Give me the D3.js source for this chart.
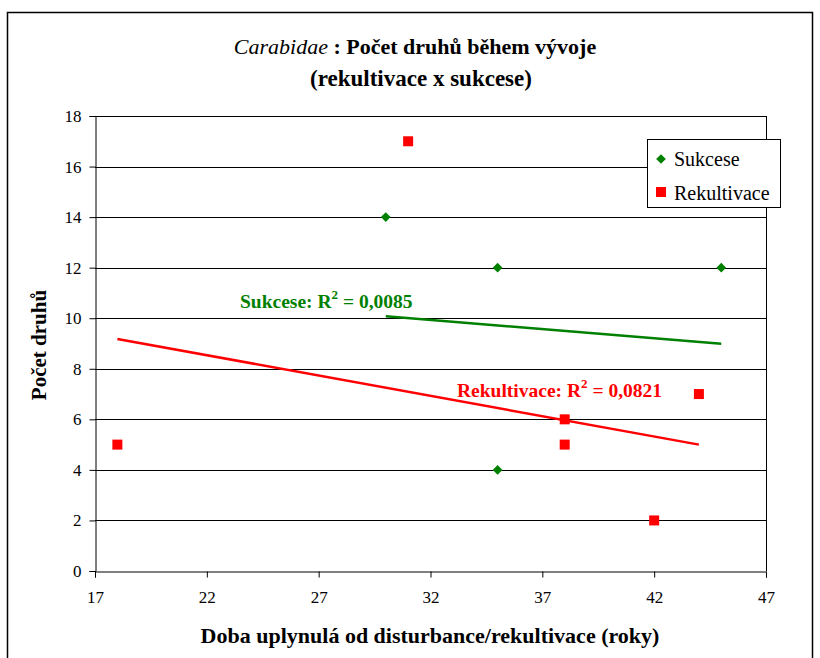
<!DOCTYPE html>
<html>
<head>
<meta charset="utf-8">
<script src="https://cdn.jsdelivr.net/npm/d3@7"></script>
<style>
  html, body { margin: 0; padding: 0; background: #fff; }
  svg text { font-family: "Liberation Serif", "Times New Roman", serif; }
</style>
</head>
<body>
<svg id="chart" width="820" height="658"></svg>
<script>
// ---- data ----
const sukceseX = [30, 35, 35, 45, 38];
const sukceseY = [14, 12, 4, 12, 6];
const rekultivaceX = [18, 31, 38, 38, 42, 44];
const rekultivaceY = [5, 17, 6, 5, 2, 7];
const sukceseTrendX = [30, 45];
const sukceseTrendY = [10.08, 8.99];
const rekultivaceTrendX = [18, 44];
const rekultivaceTrendY = [9.18, 5.0];
const xTicks = [17, 22, 27, 32, 37, 42, 47];
const yTicks = [0, 2, 4, 6, 8, 10, 12, 14, 16, 18];
const seriesNames = ["Sukcese", "Rekultivace"];
const seriesColors = ["#008000", "#ff0000"];
const r2Labels = ["0,0085", "0,0821"];

(function () {
const FONT = '"Liberation Serif", "Times New Roman", serif';
const svg = d3.select("#chart");
const pLeft = 95, pRight = 766, pTop = 116, pBottom = 571;

const x = d3.scaleLinear().domain([17, 47]).range([pLeft, pRight]);
const y = d3.scaleLinear().domain([0, 18]).range([pBottom, pTop]);

// outer border
svg.append("rect").attr("x", 7.5).attr("y", 12.5).attr("width", 805).attr("height", 660)
  .attr("fill", "none").attr("stroke", "#000").attr("stroke-width", 1.5);

// gridlines
svg.append("g").selectAll("line").data(yTicks.filter(d => d > 0)).join("line")
  .attr("x1", pLeft).attr("x2", pRight)
  .attr("y1", d => Math.round(y(d)) + 0.5).attr("y2", d => Math.round(y(d)) + 0.5)
  .attr("stroke", "#000").attr("stroke-width", 1);

// right edge line
svg.append("line").attr("x1", pRight + 0.5).attr("x2", pRight + 0.5).attr("y1", pTop).attr("y2", pBottom)
  .attr("stroke", "#000").attr("stroke-width", 1);

// axes
const yAxis = d3.axisLeft(y).tickValues(yTicks).tickSize(6).tickPadding(8).tickFormat(d3.format("d"));
const gy = svg.append("g").attr("transform", `translate(${pLeft + 0.5},0)`).call(yAxis);
gy.attr("font-family", null);
gy.select(".domain").attr("stroke", "#000");
gy.selectAll(".tick line").attr("stroke", "#000");
gy.selectAll("text").attr("font-size", 17).attr("fill", "#000").style("font-family", FONT);

const xAxis = d3.axisBottom(x).tickValues(xTicks).tickSize(6).tickPadding(13).tickFormat(d3.format("d"));
const gx = svg.append("g").attr("transform", `translate(0,${pBottom + 0.5})`).call(xAxis);
gx.attr("font-family", null);
gx.select(".domain").attr("stroke", "#000");
gx.selectAll(".tick line").attr("stroke", "#000");
gx.selectAll("text").attr("font-size", 17).attr("fill", "#000").style("font-family", FONT);

// trend lines
const line = d3.line().x(d => x(d[0])).y(d => y(d[1]));
svg.append("path").datum(d3.zip(sukceseTrendX, sukceseTrendY)).attr("d", line)
  .attr("stroke", seriesColors[0]).attr("stroke-width", 2.5).attr("fill", "none");
svg.append("path").datum(d3.zip(rekultivaceTrendX, rekultivaceTrendY)).attr("d", line)
  .attr("stroke", seriesColors[1]).attr("stroke-width", 2.5).attr("fill", "none");

// markers
const diamond = d3.symbol().type(d3.symbolDiamond2).size(60);
svg.append("g").selectAll("path").data(d3.zip(sukceseX, sukceseY)).join("path")
  .attr("d", diamond).attr("transform", d => `translate(${x(d[0])},${y(d[1])})`)
  .attr("fill", seriesColors[0]);
svg.append("g").selectAll("rect").data(d3.zip(rekultivaceX, rekultivaceY)).join("rect")
  .attr("x", d => x(d[0]) - 5).attr("y", d => y(d[1]) - 5)
  .attr("width", 10).attr("height", 10).attr("fill", seriesColors[1]);

// R² labels
function r2(xp, yp, name, val, color) {
  const t = svg.append("text").attr("x", xp).attr("y", yp).attr("fill", color)
    .attr("font-weight", "bold").attr("font-size", 19.5).style("font-family", FONT);
  t.append("tspan").text(name + ": R");
  t.append("tspan").text("2").attr("font-size", 13).attr("dy", -9);
  t.append("tspan").text(" = " + val).attr("dy", 9);
}
r2(240, 308, seriesNames[0], r2Labels[0], seriesColors[0]);
r2(457, 397, seriesNames[1], r2Labels[1], seriesColors[1]);

// legend
svg.append("rect").attr("x", 647.5).attr("y", 139.5).attr("width", 133).attr("height", 68)
  .attr("fill", "#fff").attr("stroke", "#000").attr("stroke-width", 1);
svg.append("path").attr("d", diamond).attr("transform", "translate(661,159)").attr("fill", seriesColors[0]);
svg.append("rect").attr("x", 656).attr("y", 187).attr("width", 10).attr("height", 10).attr("fill", seriesColors[1]);
svg.append("text").attr("x", 674).attr("y", 166).attr("font-size", 20).style("font-family", FONT).text(seriesNames[0]);
svg.append("text").attr("x", 674).attr("y", 200).attr("font-size", 20).style("font-family", FONT).text(seriesNames[1]);

// title
const title = svg.append("text").attr("x", 415).attr("y", 54).attr("text-anchor", "middle")
  .attr("font-size", 22).attr("font-weight", "bold").style("font-family", FONT);
title.append("tspan").attr("font-style", "italic").attr("font-weight", "normal").text("Carabidae");
title.append("tspan").text(" : Počet druhů během vývoje");
svg.append("text").attr("x", 421).attr("y", 86).attr("text-anchor", "middle")
  .attr("font-size", 23).attr("font-weight", "bold").style("font-family", FONT).text("(rekultivace x sukcese)");

// axis titles
svg.append("text").attr("transform", "translate(46,345) rotate(-90)").attr("text-anchor", "middle")
  .attr("font-size", 21).attr("font-weight", "bold").style("font-family", FONT).text("Počet druhů");
svg.append("text").attr("x", 430).attr("y", 643).attr("text-anchor", "middle")
  .attr("font-size", 22).attr("font-weight", "bold").style("font-family", FONT).text("Doba uplynulá od disturbance/rekultivace (roky)");
})();
</script>
</body>
</html>
